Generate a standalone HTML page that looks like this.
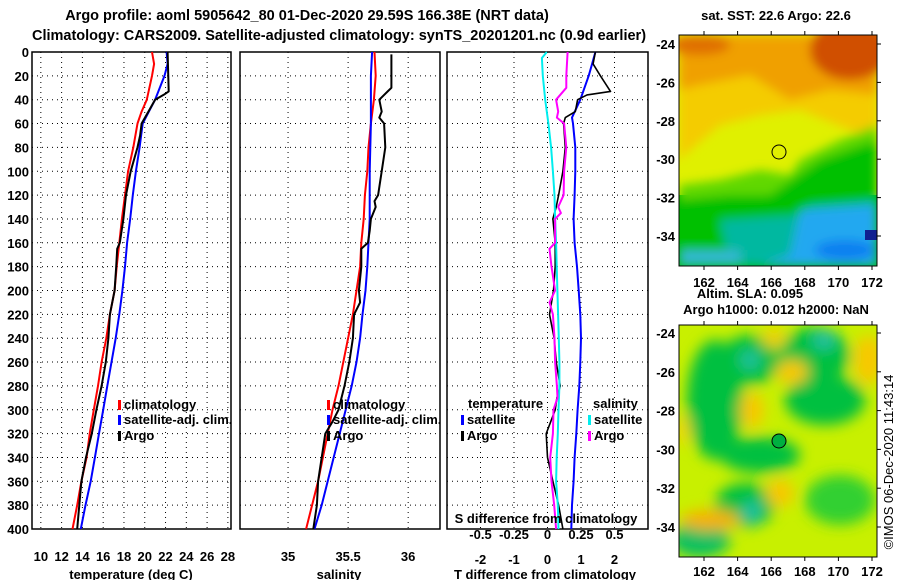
<!DOCTYPE html>
<html><head><meta charset="utf-8"><style>
body{margin:0;background:#fff;}
svg{display:block;font-family:"Liberation Sans",sans-serif;}
.t{font-weight:bold;font-size:13px;}
.ti{font-weight:bold;font-size:14.5px;}
</style></head><body>
<svg id="c" width="900" height="580" viewBox="0 0 900 580">
<defs>
<filter id="bl" x="-50%" y="-50%" width="200%" height="200%"><feGaussianBlur stdDeviation="7"/></filter>
<filter id="bl2" x="-50%" y="-50%" width="200%" height="200%"><feGaussianBlur stdDeviation="5"/></filter>
<clipPath id="m1"><rect x="679" y="35" width="198" height="231"/></clipPath>
<clipPath id="m2"><rect x="679" y="325" width="198" height="232"/></clipPath>
</defs>
<text class="ti" x="307" y="20" text-anchor="middle">Argo profile: aoml 5905642_80 01-Dec-2020 29.59S 166.38E (NRT data)</text>
<text class="ti" x="339" y="40" text-anchor="middle">Climatology: CARS2009. Satellite-adjusted climatology: synTS_20201201.nc (0.9d earlier)</text>

<!-- SST map -->
<g clip-path="url(#m1)">
<rect x="679" y="35" width="198" height="231" fill="#00c000"/>
<rect x="679" y="35" width="198" height="160" fill="#e0f000"/>
<g filter="url(#bl2)">
<path d="M679 35H877V140L850 130L800 110L760 115L720 125L690 150L679 160Z" fill="#f4cc00"/>
<path d="M679 35H877V95L830 90L790 100L750 75L700 85L679 90Z" fill="#f0a000"/>
<ellipse cx="850" cy="50" rx="40" ry="30" fill="#d05000"/>
<ellipse cx="700" cy="45" rx="30" ry="10" fill="#e07000"/>
<path d="M679 185L720 180L760 170L790 175L800 160L840 140L877 125V266H679Z" fill="#60d800"/>
<path d="M679 200L730 195L770 195L820 160L877 140V266H679Z" fill="#00c000"/>
<path d="M720 220L800 215L810 205L877 200V266H730Z" fill="#00b8a0"/>
<path d="M800 210L877 205V266H760L790 255Z" fill="#20a8f0"/>
<ellipse cx="845" cy="250" rx="30" ry="10" fill="#1080f0"/>
<path d="M679 250H740V266H679Z" fill="#30b8d0"/>
</g>
<rect x="865" y="230" width="12" height="10" fill="#102090"/>
</g>
<rect x="679" y="35" width="198" height="231" fill="none" stroke="#000"/>
<circle cx="779" cy="152" r="7" fill="none" stroke="#000"/>
<text class="t" x="776" y="20" text-anchor="middle">sat. SST: 22.6 Argo: 22.6</text>

<!-- SLA map -->
<g clip-path="url(#m2)">
<rect x="679" y="325" width="198" height="232" fill="#c8f000"/>
<g filter="url(#bl)">
<ellipse cx="715" cy="400" rx="28" ry="60" fill="#00c040"/>
<ellipse cx="750" cy="360" rx="30" ry="25" fill="#00c040"/>
<ellipse cx="815" cy="355" rx="35" ry="28" fill="#00c040"/>
<ellipse cx="825" cy="400" rx="40" ry="25" fill="#00c040"/>
<ellipse cx="760" cy="455" rx="40" ry="18" fill="#00c040"/>
<ellipse cx="745" cy="505" rx="30" ry="22" fill="#00c040"/>
<ellipse cx="840" cy="500" rx="35" ry="25" fill="#30d030"/>
<ellipse cx="700" cy="540" rx="30" ry="18" fill="#10c060"/>
<ellipse cx="750" cy="360" rx="10" ry="10" fill="#20c0a0"/>
<ellipse cx="824" cy="340" rx="12" ry="10" fill="#20c0a0"/>
<ellipse cx="752" cy="512" rx="10" ry="12" fill="#20c0a0"/>
<ellipse cx="792" cy="372" rx="16" ry="12" fill="#f8c800"/>
<ellipse cx="752" cy="410" rx="12" ry="18" fill="#f8c800"/>
<ellipse cx="780" cy="493" rx="14" ry="14" fill="#f8c800"/>
<ellipse cx="710" cy="520" rx="30" ry="10" fill="#f8b000"/>
<ellipse cx="868" cy="360" rx="14" ry="25" fill="#f8c800"/>
<ellipse cx="774" cy="338" rx="12" ry="10" fill="#f0d000"/>
<ellipse cx="682" cy="430" rx="8" ry="15" fill="#f0d800"/>
</g>
</g>
<rect x="679" y="325" width="198" height="232" fill="none" stroke="#000"/>
<circle cx="779" cy="441" r="7" fill="#00b040" stroke="#000"/>
<text class="t" x="750" y="298" text-anchor="middle">Altim. SLA: 0.095</text>
<text class="t" x="776" y="314" text-anchor="middle">Argo h1000: 0.012 h2000: NaN</text>
<text x="0" y="0" font-size="13" transform="translate(893,462) rotate(-90)" text-anchor="middle">©IMOS 06-Dec-2020 11:43:14</text>

<g id="plots"></g>
</svg>
<script>
// ---- data ----
const tDepths = [0,10,20,40,50,60,80,100,120,140,160,180,200,220,240,260,280,300,320,340,360,380,400];
const tempClim = [20.7,20.9,20.7,20.2,19.7,19.3,18.9,18.4,18.1,17.8,17.55,17.3,17.1,16.65,16.3,15.85,15.5,15.1,14.7,14.4,13.9,13.5,13.05];
const tempSat = [22.1,22.2,21.9,21.0,20.4,19.8,19.5,19.15,18.85,18.6,18.3,18.1,17.85,17.55,17.2,16.8,16.4,16.0,15.6,15.2,14.8,14.3,13.85];
const argoTDepths = [0,33,36,40,50,60,70,80,100,120,140,160,165,180,200,220,240,260,280,300,320,340,360,380,400];
const tempArgo = [22.2,22.3,21.8,21.0,20.35,19.7,19.55,19.3,18.65,18.2,17.95,17.6,17.35,17.25,17.1,16.65,16.5,16.25,15.85,15.35,14.9,14.35,13.9,13.7,13.5];
const sDepths = [0,20,40,60,80,100,120,140,160,180,200,220,240,260,280,300,320,340,360,380,400];
const salClim = [35.72,35.73,35.715,35.69,35.67,35.66,35.64,35.63,35.61,35.6,35.57,35.54,35.5,35.46,35.42,35.37,35.33,35.29,35.25,35.2,35.15];
const salSat = [35.7,35.69,35.69,35.69,35.685,35.68,35.68,35.68,35.67,35.66,35.645,35.62,35.6,35.57,35.53,35.48,35.43,35.38,35.33,35.28,35.22];
const argoSDepths = [2,30,33,40,50,55,60,80,100,120,125,130,140,150,160,165,180,190,200,210,220,240,260,280,300,310,320,340,360,380,400];
const salArgo = [35.86,35.86,35.83,35.76,35.78,35.76,35.8,35.81,35.78,35.75,35.72,35.73,35.69,35.68,35.665,35.61,35.61,35.6,35.59,35.6,35.55,35.54,35.51,35.47,35.42,35.37,35.31,35.28,35.25,35.24,35.21];
const dTempSatDepths = [0,10,20,40,55,60,80,100,120,140,160,180,200,220,240,260,280,300,320,340,360,380,400];
const dTempSat = [1.43,1.33,1.23,0.98,0.73,0.76,0.83,0.83,0.81,0.78,0.81,0.88,0.93,0.98,1.0,0.98,0.95,0.9,0.86,0.81,0.78,0.73,0.71];
const dTempArgoDepths = [0,10,20,33,36,40,50,55,60,80,100,120,130,140,160,180,200,220,240,260,280,290,300,320,340,360,380,400];
const dTempArgo = [1.43,1.36,1.58,1.88,1.18,0.9,0.83,0.53,0.48,0.53,0.46,0.33,0.26,0.16,0.23,0.23,0.18,0.06,0.2,0.26,0.38,0.28,0.23,-0.04,0.0,0.16,0.33,0.46];
const dSalSatDepths = [0,5,20,40,60,80,100,120,140,160,180,200,220,240,260,280,300,320,340,360,380,400];
const dSalSat = [-0.005,-0.042,-0.035,-0.017,0.007,0.027,0.04,0.052,0.057,0.064,0.069,0.074,0.079,0.084,0.089,0.089,0.082,0.077,0.069,0.064,0.077,0.082];
const dSalArgoDepths = [0,20,30,40,50,55,60,80,100,120,130,135,140,160,165,180,200,210,220,240,260,280,290,300,320,340,360,380,400];
const dSalArgo = [0.15,0.14,0.14,0.064,0.08,0.07,0.124,0.14,0.124,0.12,0.08,0.1,0.057,0.057,0.015,0.03,0.057,0.015,0.04,0.052,0.057,0.07,0.075,0.045,0.04,0.02,0.03,0.05,0.064];
const depthTicks = [0,20,40,60,80,100,120,140,160,180,200,220,240,260,280,300,320,340,360,380,400];
const tempTicks = [10,12,14,16,18,20,22,24,26,28];
const salTicks = ["35","35.5","36"];
const dTTicks = [-2,-1,0,1,2];
const dSTicks = ["-0.5","-0.25","0","0.25","0.5"];

const NS = "http://www.w3.org/2000/svg";
const g = document.getElementById('plots');
function mk(tag, attrs, parent){const e=document.createElementNS(NS,tag);for(const k in attrs)e.setAttribute(k,attrs[k]);(parent||g).appendChild(e);return e;}
const Y0=52, Y1=529;
const yS = d => Y0 + d/400*(Y1-Y0);
function lin(v0,v1,p0,p1){return v=>p0+(v-v0)/(v1-v0)*(p1-p0);}
const xT = lin(9.15,28.3,32,231);
const xS = lin(34.6,36.265,240,440);
const xDT = lin(-3,3,447,648);
const xDS = v => xDT(v*4);

function panel(name,x0,x1,xticks,xf){
  const gr = mk('g',{});
  
  
  depthTicks.forEach(d=>{ if(d>0&&d<400) mk('line',{x1:x0,x2:x1,y1:yS(d),y2:yS(d),stroke:'#000','stroke-dasharray':'1,4','stroke-width':1},gr); });
  xticks.forEach(v=>{ const x=xf(+v); mk('line',{x1:x,x2:x,y1:Y0,y2:Y1,stroke:'#000','stroke-dasharray':'1,4','stroke-width':1},gr); });
  mk('rect',{x:x0,y:Y0,width:x1-x0,height:Y1-Y0,fill:'none',stroke:'#000','stroke-width':1.5},gr);
  return gr;
}
function series(name,gr,ds,vs,xf,color,w){
  const pts = ds.map((d,i)=>xf(vs[i]).toFixed(1)+','+yS(d).toFixed(1)).join(' ');
  const p = mk('polyline',{points:pts,fill:'none',stroke:color,'stroke-width':w||2,'stroke-linejoin':'round'},gr);
  
  
}
function txt(gr,x,y,s,anchor,cls,fill){const t=mk('text',{x:x,y:y,'text-anchor':anchor||'start',class:cls||'t',fill:fill||'#000'},gr);t.textContent=s;return t;}
function legItem(gr,x,y,color,label){
  mk('rect',{x:x,y:y-9,width:3,height:10,fill:color},gr);
  if(label) txt(gr,x+6,y,label);
}

// Panel 1
const p1 = panel('temperature-panel',32,231,tempTicks,xT);
depthTicks.forEach(d=>{ const t=txt(p1,29,yS(d)+5,String(d),'end');   });
tempTicks.forEach(v=>{ const t=txt(p1,xT(v),561,String(v),'middle');   });
series('temperature-climatology-line',p1,tDepths,tempClim,xT,'#f00');
series('temperature-satellite-line',p1,tDepths,tempSat,xT,'#00f');
series('temperature-argo-line',p1,argoTDepths,tempArgo,xT,'#000');
const xt1=txt(p1,131,579,'temperature (deg C)','middle');  
legItem(p1,118,409,'#f00','climatology'); legItem(p1,118,424,'#00f','satellite-adj. clim.'); legItem(p1,118,440,'#000','Argo');

// Panel 2
const p2 = panel('salinity-panel',240,440,salTicks,xS);
salTicks.forEach(v=>{ const t=txt(p2,xS(+v),561,v,'middle');   });
series('salinity-climatology-line',p2,sDepths,salClim,xS,'#f00');
series('salinity-satellite-line',p2,sDepths,salSat,xS,'#00f');
series('salinity-argo-line',p2,argoSDepths,salArgo,xS,'#000');
const xt2=txt(p2,339,579,'salinity','middle');  
legItem(p2,327,409,'#f00','climatology'); legItem(p2,327,424,'#00f','satellite-adj. clim.'); legItem(p2,327,440,'#000','Argo');

// Panel 3
const p3 = panel('difference-panel',447,648,dTTicks,xDT);
dTTicks.forEach(v=>{ const t=txt(p3,xDT(v),564,String(v),'middle');   });
series('t-diff-satellite-line',p3,dTempSatDepths,dTempSat,xDT,'#00f');
series('t-diff-argo-line',p3,dTempArgoDepths,dTempArgo,xDT,'#000',1.6);
series('s-diff-satellite-line',p3,dSalSatDepths,dSalSat,xDS,'#0ee');
series('s-diff-argo-line',p3,dSalArgoDepths,dSalArgo,xDS,'#f0f');
const xt3=txt(p3,545,579,'T difference from climatology','middle');  
txt(p3,468,408,'temperature'); txt(p3,593,408,'salinity');
legItem(p3,461,424,'#00f','satellite'); legItem(p3,461,440,'#000','Argo');
legItem(p3,588,424,'#0ee','satellite'); legItem(p3,588,440,'#f0f','Argo');
const st=txt(p3,546,523,'S difference from climatology','middle');  
dSTicks.forEach(v=>{ const t=txt(p3,xDS(+v),539,v,'middle');   });

// Map axes
const lonTicks=[162,164,166,168,170,172];
const latTicks=[-24,-26,-28,-30,-32,-34];
const lonX = lin(162,172,704,872);
const m1Y = lin(-24,-34,44,236);
const m2Y = lin(-24,-34,333,527);
const ma = mk('g',{});


lonTicks.forEach(v=>{
  txt(ma,lonX(v),287,String(v),'middle'); txt(ma,lonX(v),576,String(v),'middle');
  mk('line',{x1:lonX(v),x2:lonX(v),y1:266,y2:270,stroke:'#000'},ma);mk('line',{x1:lonX(v),x2:lonX(v),y1:31,y2:35,stroke:'#000'},ma);
  mk('line',{x1:lonX(v),x2:lonX(v),y1:557,y2:561,stroke:'#000'},ma);mk('line',{x1:lonX(v),x2:lonX(v),y1:321,y2:325,stroke:'#000'},ma);
});
latTicks.forEach(v=>{
  txt(ma,675,m1Y(v)+5,String(v),'end'); txt(ma,675,m2Y(v)+5,String(v),'end');
  mk('line',{x1:877,x2:881,y1:m1Y(v),y2:m1Y(v),stroke:'#000'},ma);
  mk('line',{x1:877,x2:881,y1:m2Y(v),y2:m2Y(v),stroke:'#000'},ma);
});
</script>
</body></html>
